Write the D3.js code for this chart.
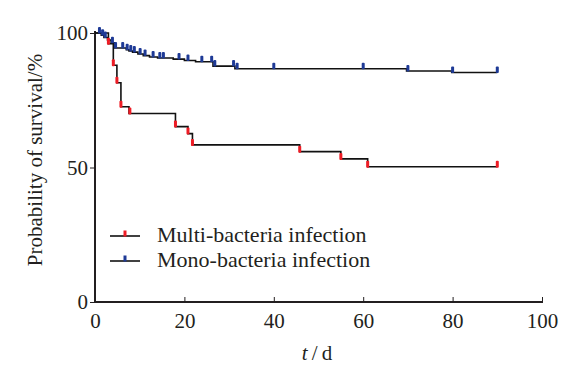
<!DOCTYPE html>
<html><head><meta charset="utf-8">
<script src="https://cdn.jsdelivr.net/npm/d3@7/dist/d3.min.js"></script>
<style>body{margin:0;background:#fff}svg{display:block}</style>
</head><body><svg id="c" width="577" height="370"></svg>
<script>
// Data (time in days, survival probability in %)
const multiSteps = [[0,100],[3.0,96],[4.1,88],[4.9,81.5],[5.8,72.6],[7.6,70.1],[18,65.2],[20.8,62.6],[21.8,58.4],[45.8,55.9],[55,53.2],[61,50.3]];
const multiEnd = 90;
const multiMarks = [3.0,4.1,4.9,5.8,7.8,18,20.8,21.8,45.8,55,61,90];
const monoSteps = [[0,100],[1.4,99.2],[2.0,98.3],[2.8,97.4],[3.6,96.4],[4.3,94.4],[7.0,93.8],[7.6,93.3],[8.4,92.9],[9.6,92.2],[10.8,91.6],[12.2,91.1],[14.0,90.7],[17.5,90.3],[20.0,89.8],[22.5,89.3],[26.4,87.7],[31.3,86.7],[69.7,85.9],[79.8,85.3]];
const monoEnd = 90;
const monoMarks = [1.0,1.7,2.3,3.9,4.6,6.2,7.2,8.0,8.8,10.1,11.2,13.0,14.5,15.3,18.8,20.8,23.9,26.1,26.8,31.0,31.8,40,60,70,80,90];
const xTicks = [0,20,40,60,80,100];
const yTicks = [0,50,100];
const seriesNames = ["Multi-bacteria infection","Mono-bacteria infection"];

const FONT = "'Liberation Serif'";
const INK = "#231f20";
const svg = d3.select("#c");
const x = d3.scaleLinear().domain([0,100]).range([95,542]);
const y = d3.scaleLinear().domain([0,100]).range([302,33]);
const red = "#ee1c25", blue = "#1e3a96";

function valueAt(steps,t){let p=steps[0][1];for(const s of steps){if(s[0]<=t+1e-9)p=s[1];}return p;}
function stepPath(steps,end){
  let d = "M"+x(steps[0][0])+","+y(steps[0][1]);
  for(let i=1;i<steps.length;i++){d+="H"+x(steps[i][0])+"V"+y(steps[i][1]);}
  d+="H"+x(end);return d;
}
function styleText(sel,size){sel.attr("font-family",null).style("font-family",FONT).style("font-size",size+"px").style("fill",INK);}

// axes
const xAxis = d3.axisBottom(x).tickValues(xTicks).tickSizeInner(-5).tickSizeOuter(0).tickPadding(11);
const gx = svg.append("g").attr("transform","translate(0,"+y(0)+")").call(xAxis).attr("font-family",null).attr("font-size",null);
gx.select(".domain").attr("stroke",INK).attr("stroke-width",2).attr("d","M"+(x(0)-1)+",0H"+(x(100)+1));
gx.selectAll(".tick line").attr("stroke",INK).attr("stroke-width",1);
styleText(gx.selectAll(".tick text"),21);

const yAxis = d3.axisLeft(y).tickValues(yTicks).tickSizeInner(5).tickSizeOuter(0).tickPadding(2);
const gy = svg.append("g").attr("transform","translate("+x(0)+",0)").call(yAxis).attr("font-family",null).attr("font-size",null);
gy.select(".domain").attr("stroke",INK).attr("stroke-width",2).attr("d","M0,"+(y(100)-2)+"V"+(y(0)+1));
gy.selectAll(".tick line").attr("stroke",INK).attr("stroke-width",1);
styleText(gy.selectAll(".tick text"),21);

// curves
svg.append("path").attr("d",stepPath(monoSteps,monoEnd)).attr("fill","none").attr("stroke","#111").attr("stroke-width",1.6);
svg.append("path").attr("d",stepPath(multiSteps,multiEnd)).attr("fill","none").attr("stroke","#111").attr("stroke-width",1.6);

svg.append("g").selectAll("rect").data(monoMarks).join("rect")
  .attr("x",d=>x(d)-1.5).attr("y",d=>y(valueAt(monoSteps,d))-6).attr("width",3).attr("height",6.5).attr("rx",1).attr("fill",blue);
svg.append("g").selectAll("rect").data(multiMarks).join("rect")
  .attr("x",d=>x(d)-1.5).attr("y",d=>y(valueAt(multiSteps,d))-6).attr("width",3).attr("height",7).attr("rx",1).attr("fill",red);

// legend
const leg = svg.append("g");
[[red,234],[blue,259]].forEach((c,i)=>{
  leg.append("line").attr("x1",110).attr("x2",140).attr("y1",c[1]+2).attr("y2",c[1]+2).attr("stroke","#111").attr("stroke-width",1.6);
  leg.append("rect").attr("x",123.5).attr("y",c[1]-3.5).attr("width",3).attr("height",6).attr("fill",c[0]);
  const t = leg.append("text").attr("x",157).attr("y",c[1]+8).text(seriesNames[i]);
  styleText(t,22);
});

// axis titles
const yt = svg.append("text").attr("transform","translate(42,"+(160)+") rotate(-90)").attr("text-anchor","middle").text("Probability of survival/%");
styleText(yt,21);
const xt = svg.append("text").attr("x",317).attr("y",360).attr("text-anchor","middle");
styleText(xt,21);
xt.append("tspan").style("font-style","italic").text("t");
xt.append("tspan").text("\u2009/\u2009d");
</script></body></html>
